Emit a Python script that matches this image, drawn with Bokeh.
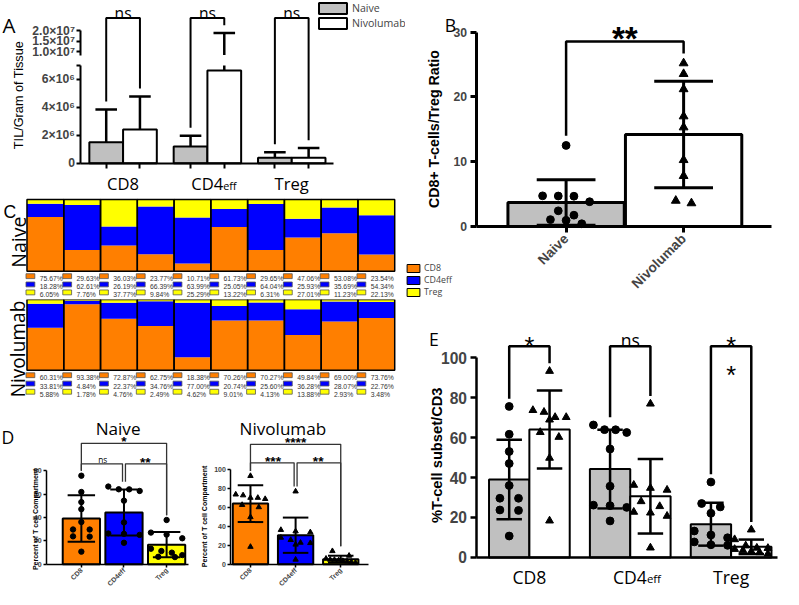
import numpy as np
from math import pi
from bokeh.plotting import figure
from bokeh.models import (Range1d, LinearAxis, FixedTicker, Label, Legend,
                          LegendItem, ColumnDataSource)
from bokeh.layouts import row, column
from bokeh.embed import file_html
from bokeh.resources import INLINE
from bokeh.core.properties import value

# ======================= DATA =======================
subsets = ["CD8", "CD4eff", "Treg"]
group_names = ["Naive", "Nivolumab"]
subset_colors = ["#ff7f00", "#0000ff", "#ffff00"]

# A: TIL per gram of tissue (bar height, top of one-sided error bar)
til_naive = [1.50e6, 1.20e6, 0.40e6]
til_naive_err = [3.86e6, 1.98e6, 0.80e6]
til_nivo = [2.42e6, 6.65e6, 0.40e6]
til_nivo_err = [4.79e6, 1.88e7, 1.10e6]
til_sig = ["ns", "ns", "ns"]
til_ticks = [0, 2e6, 4e6, 6e6, 1.0e7, 1.5e7, 2.0e7]
til_tick_labels = ["0", "2×10⁶", "4×10⁶", "6×10⁶", "1.0×10⁷", "1.5×10⁷", "2.0×10⁷"]
til_break = [7e6, 1e7]

# B: CD8/Treg ratio per animal
ratio_naive = [12.51, 3.82, 0.95, 2.42, 0.42, 4.67, 4.70, 1.74, 4.73, 1.06]
ratio_nivo = [10.26, 15.31, 25.20, 3.98, 7.80, 17.01, 3.59, 23.55, 21.20]
ratio_sig = "**"
ratio_ticks = [0, 10, 20, 30]

# C: composition of T cell compartment per animal (%)
naive_cd8 = [75.67, 29.63, 36.03, 23.77, 10.71, 61.73, 29.65, 47.06, 53.08, 23.54]
naive_cd4 = [18.28, 62.61, 26.19, 66.39, 63.99, 25.05, 64.04, 25.93, 35.69, 54.34]
naive_treg = [6.05, 7.76, 37.77, 9.84, 25.29, 13.22, 6.31, 27.01, 11.23, 22.13]
nivo_cd8 = [60.31, 93.38, 72.87, 62.75, 18.38, 70.26, 70.27, 49.84, 69.00, 73.76]
nivo_cd4 = [33.81, 4.84, 22.37, 34.76, 77.00, 20.74, 25.60, 36.28, 28.07, 22.76]
nivo_treg = [5.88, 1.78, 4.76, 2.49, 4.62, 9.01, 4.13, 13.88, 2.93, 3.48]

# D: significance (CD8 vs CD4eff, CD4eff vs Treg, CD8 vs Treg)
d_sig_naive = ["ns", "**", "*"]
d_sig_nivo = ["***", "**", "****"]
d_ticks_naive = [0, 20, 40, 60, 80]
d_ticks_nivo = [0, 20, 40, 60, 80, 100]

# E
e_sig = ["*", "ns", "**"]
e_ticks = [0, 20, 40, 60, 80, 100]

# ======================= LAYOUT HELPERS =======================
SX, SY = 783 / 799, 589 / 605
FS = 0.977
SANS = "Open Sans"
ARIAL = "Liberation Sans"
GREY = "#c0c0c0"
SPLIT = 413  # left / right column boundary (reference pixels)
CAPK = 0.36  # visual centre of a line of text above its baseline (em)


def X(v):
    return int(round(v * SX))


def Y(v):
    return int(round(v * SY))


def F(v):
    return f"{v * FS:.1f}px"


class Panel:
    """A figure whose plotting frame fills the whole canvas; axes are pinned inside."""

    def __init__(self, box, x0, kx, y0, ky):
        self.x0, self.kx, self.y0, self.ky = x0, kx, y0, ky
        L, T, R, B = box
        self.height = Y(B) - Y(T)
        p = figure(width=X(R) - X(L), height=self.height,
                   x_range=Range1d(self.dx(L), self.dx(R)),
                   y_range=Range1d(self.dy(B), self.dy(T)),
                   x_axis_type=None, y_axis_type=None,
                   min_border_left=0, min_border_right=0,
                   min_border_top=0, min_border_bottom=0,
                   output_backend="svg", toolbar_location=None)
        p.outline_line_color = None
        p.background_fill_color = "white"
        p.border_fill_color = "white"
        self.p = p

    def dx(self, px):
        return (px - self.x0) / self.kx

    def dy(self, py):
        return (self.y0 - py) / self.ky

    def w(self, px):
        return px / self.kx

    def h(self, px):
        return px / self.ky

    def label(self, x, y, s, size, font=SANS, bold=False, align="center", angle=0.0,
              color="black"):
        self.p.add_layout(Label(x=float(x), y=float(y), text=s, text_font=font,
                                text_font_size=F(size),
                                text_font_style="bold" if bold else "normal",
                                text_align=align, text_baseline="alphabetic",
                                angle=angle, text_color=color))

    def text(self, x, y, s, size, k=CAPK, angle=0.0, **kw):
        """x, y in data units = visual centre line of the text."""
        if angle:
            self.label(x + self.w(k * size), y, s, size, angle=angle, **kw)
        else:
            self.label(x, y - self.h(k * size), s, size, **kw)

    def text_px(self, px, py, s, size, **kw):
        self.text(self.dx(px), self.dy(py), s, size, **kw)

    def sig(self, x, py_center, s, size, bold=False, font=ARIAL):
        k = 0.40 if set(s) == {"*"} else 0.27
        self.label(x, self.dy(py_center + k * size), s, size, font=font, bold=bold)


def axis(P, side, at, ticks, bounds, lw, tick_out, size, overrides=None,
         orient="horizontal", standoff=3, bold=True):
    ax = LinearAxis(ticker=FixedTicker(ticks=[float(t) for t in ticks]),
                    bounds=(float(bounds[0]), float(bounds[1])),
                    fixed_location=float(at),
                    axis_line_width=lw, axis_line_color="black",
                    major_tick_line_width=lw, major_tick_out=tick_out, major_tick_in=0,
                    minor_tick_out=0, minor_tick_in=0,
                    major_label_text_font=ARIAL, major_label_text_font_size=F(size),
                    major_label_text_font_style="bold" if bold else "normal",
                    major_label_standoff=standoff, major_label_orientation=orient)
    if overrides is not None:
        ax.major_label_overrides = overrides
    P.p.add_layout(ax, side)
    return ax


def swarm(vals, ky, thr, sp, half):
    order = sorted(range(len(vals)), key=lambda i: -vals[i])
    offs = [0.0] * len(vals)
    bins, cur = [], []
    for i in order:
        if cur and (vals[cur[0]] - vals[i]) * ky >= thr:
            bins.append(cur)
            cur = []
        cur.append(i)
    if cur:
        bins.append(cur)
    for b in bins:
        n = len(b)
        s = sp if n < 2 else min(sp, 2 * half / (n - 1))
        for j, i in enumerate(b):
            offs[i] = (j - (n - 1) / 2) * s
    return np.array(offs)


def errbar(P, cx, lo, hi, cap_px, lw, color="black"):
    c = P.w(cap_px / 2)
    P.p.segment(x0=[cx, cx - c, cx - c], y0=[lo, lo, hi], x1=[cx, cx + c, cx + c],
                y1=[hi, lo, hi], line_color=color, line_width=lw)


def cat_labels(P, py, size):
    for i, name in enumerate(subsets):
        if name.endswith("eff"):
            xr = i + P.w(17 * size / 18)
            P.text(xr, P.dy(py), name[:-3], size, align="right")
            P.text(xr, P.dy(py + 5 * size / 18), "eff", size * 0.65, align="left", k=0.27)
        else:
            P.text(i, P.dy(py), name, size)


def mean_sd(v):
    return float(np.mean(v)), float(np.std(v, ddof=1))


# ======================= PANEL A =======================
A = Panel((0, 0, SPLIT, 200), x0=125, kx=86, y0=167, ky=14.33)
LOW_TOP = til_break[0] / 1e6
UP_BASE, UP_K, UP_START = 8.0, 1.5 / 1e7, 7.75


def til_u(v):
    return v / 1e6 if v <= til_break[0] else UP_BASE + (v - til_break[1]) * UP_K


xs3 = np.arange(3)
rA1 = A.p.vbar(x=xs3 - 0.2, top=[til_u(v) for v in til_naive], width=0.4,
               fill_color=GREY, line_color="black", line_width=2)
rA2 = A.p.vbar(x=xs3 + 0.2, top=[til_u(v) for v in til_nivo], width=0.4,
               fill_color="white", line_color="black", line_width=2)
for off, means, errs in [(-0.2, til_naive, til_naive_err), (0.2, til_nivo, til_nivo_err)]:
    for i in range(3):
        cx = i + off
        m, e = til_u(means[i]), til_u(errs[i])
        if errs[i] > til_break[0]:
            A.p.segment(x0=[cx, cx], y0=[m, UP_START], x1=[cx, cx], y1=[LOW_TOP, e],
                        line_color="black", line_width=2.5)
        else:
            A.p.segment(x0=[cx], y0=[m], x1=[cx], y1=[e], line_color="black", line_width=2.5)
        c = A.w(11)
        A.p.segment(x0=[cx - c], y0=[e], x1=[cx + c], y1=[e], line_color="black", line_width=2.5)

topA = A.dy(18)
for i in range(3):
    lb = til_u(til_naive_err[i]) + A.h(8)
    rb = til_u(til_nivo_err[i]) + A.h(8)
    A.p.line(x=[i - 0.2, i - 0.2, i + 0.2, i + 0.2], y=[lb, topA, topA, rb],
             line_color="black", line_width=2)
    A.sig(i, 8, til_sig[i], 16, font=SANS)

# broken y axis: two pinned axis pieces
low_t = [til_u(v) for v in til_ticks if v <= til_break[0]] + [LOW_TOP]
low_ov = {til_u(v): lab for v, lab in zip(til_ticks, til_tick_labels) if v <= til_break[0]}
low_ov[LOW_TOP] = ""
up_t = [til_u(v) for v in til_ticks if v > til_break[0]]
up_ov = {til_u(v): lab for v, lab in zip(til_ticks, til_tick_labels) if v > til_break[0]}
axA = A.dx(82)
axis(A, "left", axA, low_t, (0, LOW_TOP), 2, 4, 12.5, overrides=low_ov, standoff=2)
axis(A, "left", axA, up_t, (UP_START, up_t[-1]), 2, 4, 12.5, overrides=up_ov, standoff=2)
xt = [-0.2, 0.2, 0.8, 1.2, 1.8, 2.2]
axis(A, "below", 0, xt, (axA, 2.5), 2, 5, 8, overrides={t: "" for t in xt})
cat_labels(A, 182, 17)
A.text_px(2, 17.5, "A", 21, align="left")
A.text_px(14, 97, "TIL/Gram of Tissue", 13, font=ARIAL, angle=pi / 2)
legA = Legend(items=[LegendItem(label=group_names[0], renderers=[rA1]),
                     LegendItem(label=group_names[1], renderers=[rA2])],
              location=(X(321), A.height - Y(31)), orientation="vertical",
              padding=0, margin=0, spacing=0, glyph_width=35, glyph_height=14,
              label_height=15, label_standoff=2, label_text_font=SANS,
              label_text_font_size=F(10.8), border_line_color=None,
              background_fill_alpha=0)
A.p.add_layout(legA)

# ======================= PANEL B =======================
B = Panel((SPLIT, 0, 799, 308), x0=577, kx=120, y0=232, ky=6.65)
axis(B, "left", B.dx(485), ratio_ticks, (0, ratio_ticks[-1]), 3, 6, 12.5)
axis(B, "below", 0, [0, 1], (B.dx(485), B.dx(787)), 3, 6, 14,
     overrides={0: group_names[0], 1: group_names[1]}, orient=pi / 4, standoff=4)
mB = [mean_sd(ratio_naive), mean_sd(ratio_nivo)]
B.p.vbar(x=[0, 1], top=[mB[0][0], mB[1][0]], width=0.99, fill_color=[GREY, "white"],
         line_color="black", line_width=3)
for i, (vals, mk, sz) in enumerate([(ratio_naive, "circle", 8), (ratio_nivo, "triangle", 9)]):
    offs = swarm(vals, B.ky, 9, 16, 30)
    B.p.scatter(x=i + offs / B.kx, y=vals, marker=mk, size=sz * FS, color="black")
    errbar(B, i, mB[i][0] - mB[i][1], mB[i][0] + mB[i][1], 60, 3)
topB = B.dy(42)
B.p.line(x=[0, 0, 1, 1], y=[max(ratio_naive) + B.h(10), topB, topB, max(ratio_nivo) + B.h(10)],
         line_color="black", line_width=2.5)
B.sig(0.5, 25, ratio_sig, 34, bold=True)
B.text_px(453, 18.5, "B", 18, align="left")
B.text_px(437, 132, "CD8+ T-cells/Treg Ratio", 14.5, font=ARIAL, bold=True, angle=pi / 2)
# legend of panel C (sits left of panel B's axes); renderers carry no visible mark
ITEM_H = 13
for s, c, cy in zip(subsets, subset_colors, [274.5, 287, 299.5]):
    r = B.p.vbar(x=np.array([np.nan]), top=np.array([np.nan]), width=0.1, fill_color=c,
                 line_color="black", line_width=1)
    lg = Legend(items=[LegendItem(label=s, renderers=[r])],
                location=(0, int(round(B.height - Y(cy) - ITEM_H / 2))),
                orientation="vertical", padding=0, margin=0, spacing=0,
                glyph_width=16, glyph_height=10, label_height=ITEM_H,
                label_standoff=3, label_text_font=SANS, label_text_font_size=F(9),
                border_line_color=None, background_fill_alpha=0)
    B.p.add_layout(lg)

# ======================= PANEL C =======================
C1 = Panel((0, 200, SPLIT, 307), x0=45.75, kx=37.5, y0=278, ky=0.74)
C2 = Panel((0, 307, SPLIT, 410), x0=45.75, kx=37.5, y0=380, ky=0.73)


def comp(P, cd8, cd4, treg, name, name_py, name_size, row_pys):
    p = P.p
    n = len(cd8)
    xs = np.arange(n)
    s1 = np.array(cd8, float)
    s2 = s1 + np.array(cd4)
    s3 = s2 + np.array(treg)
    for bot, top, col in [(0 * s1, s1, subset_colors[0]), (s1, s2, subset_colors[1]),
                          (s2, s3, subset_colors[2])]:
        p.vbar(x=xs, bottom=bot, top=top, width=1.0, fill_color=col, line_color=None)
    p.vbar(x=xs, bottom=0, top=s3, width=1.0, fill_color=None, line_color="black",
           line_width=1.5)
    for r, (vals, col) in enumerate(zip([cd8, cd4, treg], subset_colors)):
        yy = P.dy(row_pys[r])
        p.rect(x=xs - 0.5 + P.w(3.5), y=[yy] * n, width=P.w(9), height=P.h(5),
               fill_color=col, line_color="#555555", line_width=0.8)
        src = ColumnDataSource(dict(x=xs - 0.5 + P.w(13), y=[yy - P.h(CAPK * 7)] * n,
                                    t=[f"{v:.2f}%" for v in vals]))
        p.text(x="x", y="y", text="t", source=src, text_font=value(ARIAL),
               text_font_size=value(F(7)), text_color="#333333", text_align="left",
               text_baseline="alphabetic")
    P.text_px(11, name_py, name, name_size, angle=pi / 2)


comp(C1, naive_cd8, naive_cd4, naive_treg, group_names[0], 248, 20, [283, 291.5, 299.7])
comp(C2, nivo_cd8, nivo_cd4, nivo_treg, group_names[1], 358, 19.5, [385, 393.6, 402])
C1.text_px(3, 211, "C", 18, font=ARIAL, align="left")

# ======================= PANEL D =======================
D1 = Panel((0, 410, 200, 605), x0=82.5, kx=43.5, y0=579, ky=1.2)
D2 = Panel((200, 410, SPLIT, 605), x0=255, kx=46, y0=579, ky=0.97)


def dpanel(P, sets, marker, pt, ticks, axis_px, axis_end, title, title_px, sig,
           lv1, lv2, ytitle_px, bar_w, cap):
    p = P.p
    axis(P, "left", P.dx(axis_px), ticks, (0, ticks[-1]), 1.5, 3, 7.2, standoff=2)
    axis(P, "below", 0, [0, 1, 2], (P.dx(axis_px), P.dx(axis_end)), 1.5, 3, 7,
         overrides={i: s for i, s in enumerate(subsets)}, orient=pi / 4, standoff=2)
    ms = [mean_sd(v) for v in sets]
    p.vbar(x=[0, 1, 2], top=[m for m, s in ms], width=P.w(bar_w), fill_color=subset_colors,
           line_color="black", line_width=2)
    for i, v in enumerate(sets):
        offs = swarm(v, P.ky, pt + 1.5, 17, bar_w / 2 - 3)
        p.scatter(x=i + offs / P.kx, y=v, marker=marker, size=pt * FS, color="black")
        errbar(P, i, ms[i][0] - ms[i][1], ms[i][0] + ms[i][1], cap, 2)
    ends = [max(v) + P.h(5) for v in sets]
    l1, l2 = P.dy(lv1), P.dy(lv2)
    d = P.w(1.5)
    p.multi_line(xs=[[0, 0, 1 - d, 1 - d], [1 + d, 1 + d, 2, 2], [0, 0, 2, 2]],
                 ys=[[ends[0], l2, l2, ends[1]], [ends[1], l2, l2, ends[2]],
                     [ends[0], l1, l1, ends[2]]],
                 line_color="#333333", line_width=1.3)
    for x, py, s in [(0.5, lv2 - 7, sig[0]), (1.5, lv2 - 7, sig[1]), (1.0, lv1 - 7, sig[2])]:
        if set(s) == {"*"}:
            P.sig(x, py, s, 14, bold=True)
        else:
            P.sig(x, py, s, 8.5, font=SANS)
    P.text_px(title_px[0], title_px[1], title, 17.5)
    P.text_px(ytitle_px[0], ytitle_px[1], "Percent of T cell Compartment", 7.2,
              font=ARIAL, bold=True, angle=pi / 2)


dpanel(D1, [naive_cd8, naive_cd4, naive_treg], "circle", 5.5, d_ticks_naive, 47, 192,
       group_names[0], (120, 433), d_sig_naive, 455, 476, (33, 533), 38, 28)
dpanel(D2, [nivo_cd8, nivo_cd4, nivo_treg], "triangle", 5.5, d_ticks_nivo, 235, 375,
       group_names[1], (288, 433), d_sig_nivo, 456, 475, (206, 530), 36, 26)
D1.text_px(1, 442, "D", 18, align="left")

# ======================= PANEL E =======================
E = Panel((SPLIT, 308, 799, 605), x0=539.5, kx=103, y0=572, ky=2.05)
axis(E, "left", E.dx(485), e_ticks, (0, e_ticks[-1]), 2.5, 6, 16)
axis(E, "below", 0, [], (E.dx(485), E.dx(793)), 2.5, 0, 8)
naive_sets = [naive_cd8, naive_cd4, naive_treg]
nivo_sets = [nivo_cd8, nivo_cd4, nivo_treg]
for off, sets, fill, mk in [(-0.2, naive_sets, GREY, "circle"), (0.2, nivo_sets, "white", "triangle")]:
    ms = [mean_sd(v) for v in sets]
    E.p.vbar(x=xs3 + off, top=[m for m, s in ms], width=0.4, fill_color=fill,
             line_color="black", line_width=2)
    for i, v in enumerate(sets):
        offs = swarm(v, E.ky, 9, 19, 17)
        E.p.scatter(x=i + off + offs / E.kx, y=v, marker=mk, size=8 * FS, color="black")
        errbar(E, i + off, ms[i][0] - ms[i][1], ms[i][0] + ms[i][1], 26, 2.5)
topE = E.dy(355)
for i in range(3):
    lb = max(naive_sets[i]) + E.h(8)
    rb = max(nivo_sets[i]) + E.h(8)
    E.p.line(x=[i - 0.2, i - 0.2, i + 0.2, i + 0.2], y=[lb, topE, topE, rb],
             line_color="black", line_width=2.5)
    s = e_sig[i]
    if set(s) == {"*"}:
        for j in range(len(s)):
            E.sig(i, 344 + 30 * j, "*", 26)
    else:
        E.sig(i, 344, s, 18, font=SANS)
cat_labels(E, 586, 18)
E.text_px(437, 341, "E", 18, align="left")
E.text_px(440, 467, "%T-cell subset/CD3", 15, font=ARIAL, bold=True, angle=pi / 2)

# ======================= PAGE =======================
left = column(A.p, C1.p, C2.p, row(D1.p, D2.p))
right = column(B.p, E.p)
layout = row(left, right)
open("out.html", "w").write(file_html(layout, INLINE, "Figure"))
